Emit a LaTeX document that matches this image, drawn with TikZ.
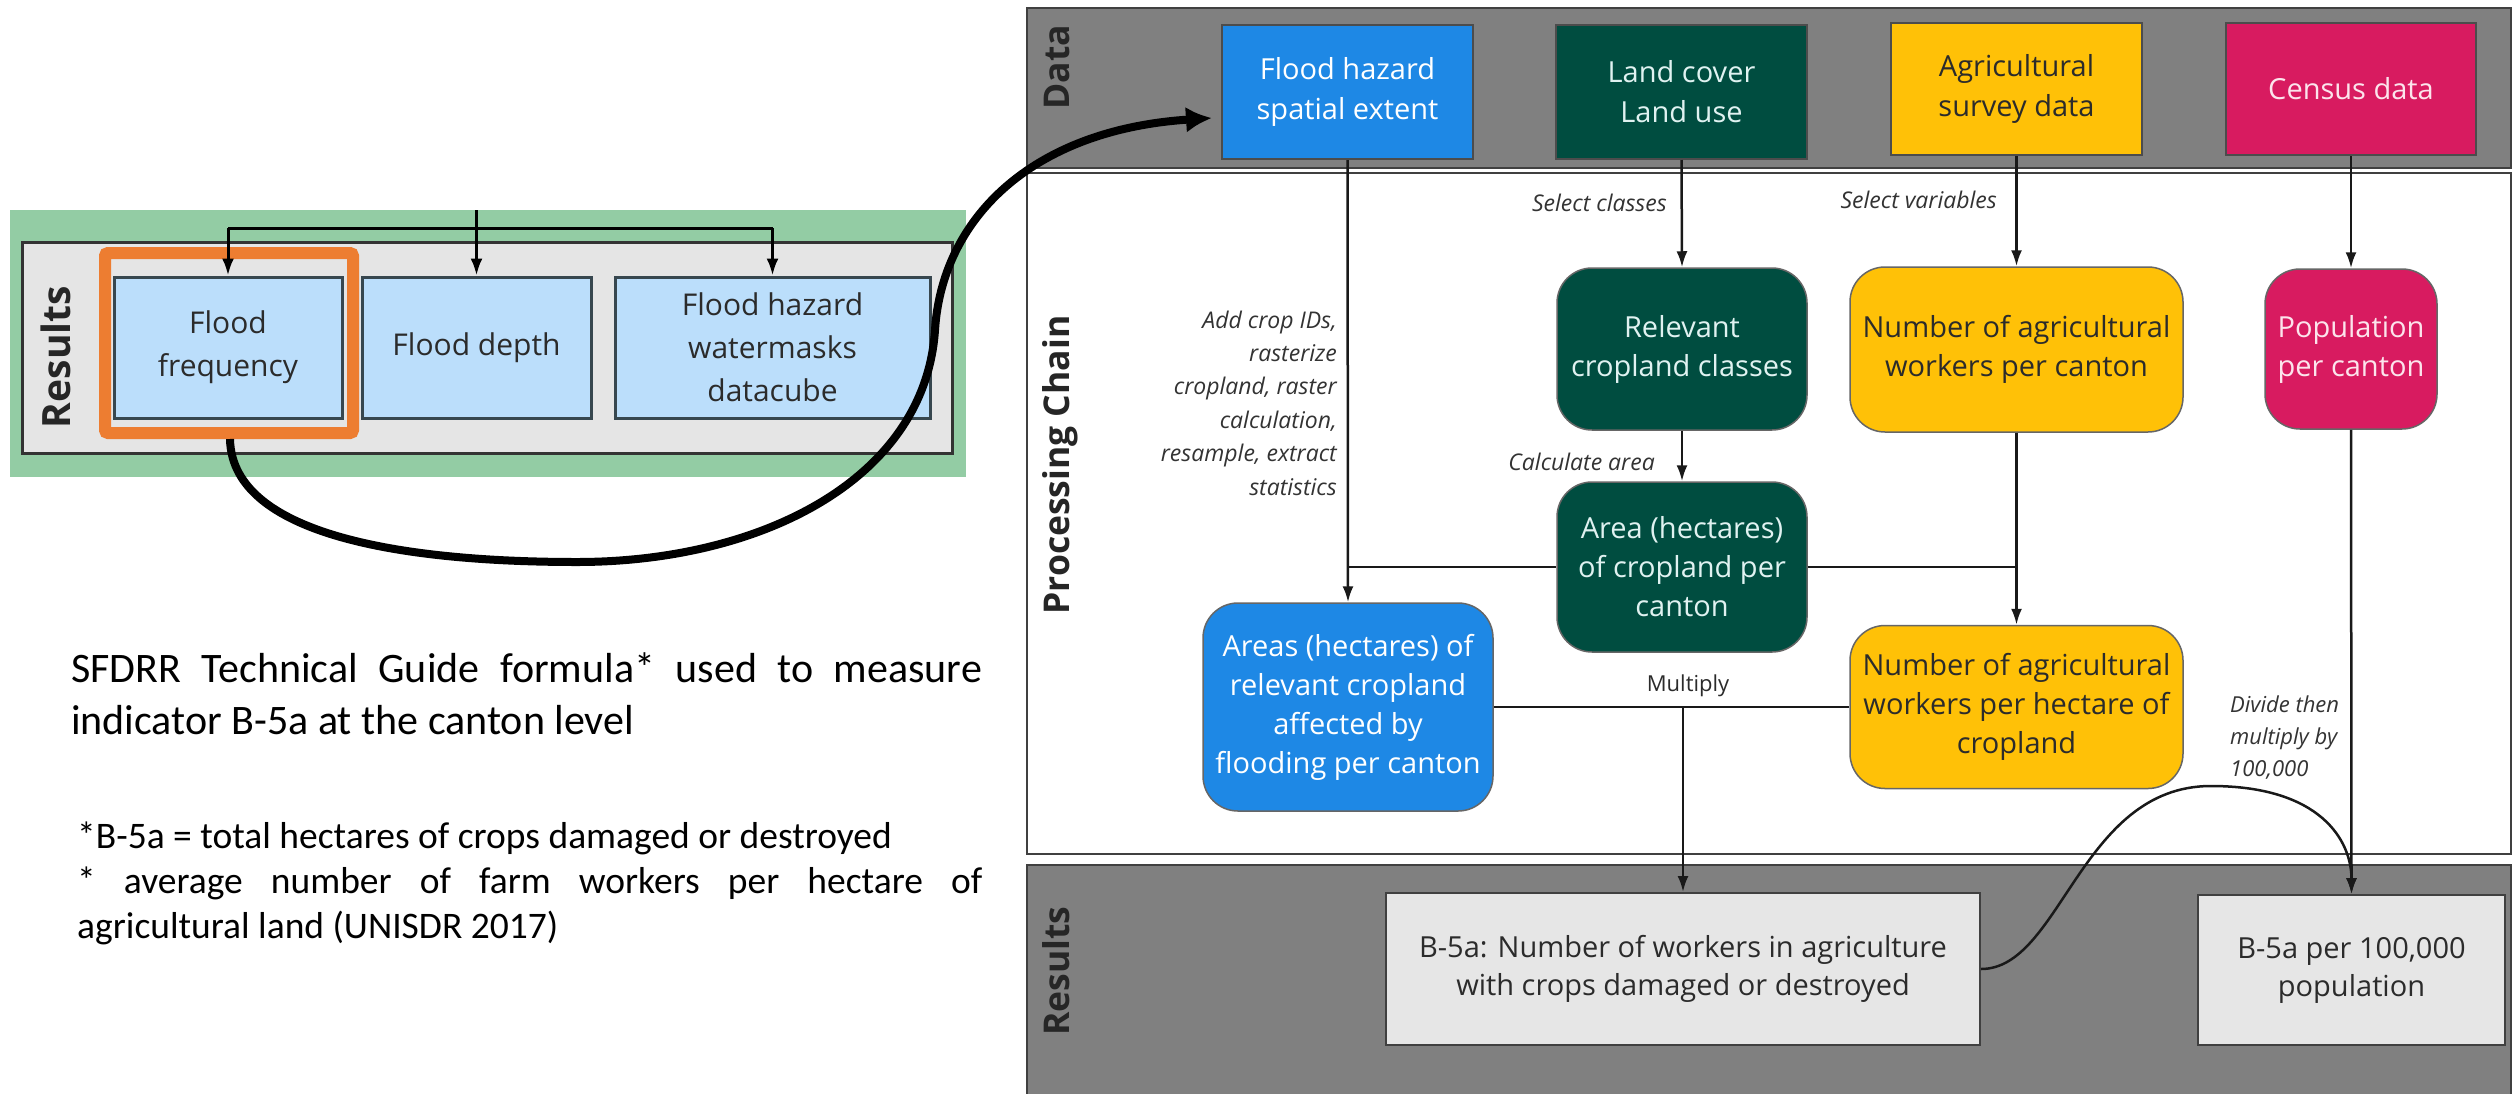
\documentclass[tikz,border=0pt]{standalone}
\usepackage{fontspec}
\setmainfont{Carlito}
\newfontfamily\osans{Open Sans}
\usetikzlibrary{arrows.meta}
\definecolor{bandgray}{HTML}{808080}
\definecolor{bandline}{HTML}{404040}
\definecolor{fhblue}{HTML}{1E88E5}
\definecolor{lcgreen}{HTML}{004D40}
\definecolor{agamber}{HTML}{FFC107}
\definecolor{cspink}{HTML}{D81B60}
\definecolor{resbox}{HTML}{E6E6E6}
\definecolor{lpgreen}{HTML}{93CCA4}
\definecolor{lpgray}{HTML}{E5E5E5}
\definecolor{lpblue}{HTML}{BBDEFB}
\definecolor{lpline}{HTML}{37474F}
\definecolor{orng}{HTML}{ED7D31}
\definecolor{mint}{HTML}{E0F2F1}
\definecolor{pinktxt}{HTML}{FCE4EC}
\definecolor{darktxt}{HTML}{2B2B2B}
\begin{document}
\begin{tikzpicture}[x=1pt,y=-1pt,
  lanebox/.style={draw=bandline,line width=2pt},
  lanelabel/.style={rotate=90,font=\osans\bfseries\fontsize{35.5}{40}\selectfont,text=black!85,inner sep=0pt},
  dbox/.style={rectangle,draw=black!70,line width=2pt,minimum width=251pt,minimum height=134pt,
    align=center,inner sep=0pt,font=\osans\fontsize{29}{40}\selectfont},
  pbox/.style={rectangle,rounded corners=35pt,draw=black!60,line width=1.5pt,align=center,
    inner sep=0pt,font=\osans\fontsize{29}{39}\selectfont},
  rbox/.style={rectangle,fill=resbox,draw=black!75,line width=2pt,align=center,inner sep=0pt,
    text=darktxt,font=\osans\fontsize{29}{38}\selectfont},
  conn/.style={line width=2.5pt,draw=black!90},
  arr/.style={conn,-{Latex[length=16pt,width=11pt]}},
  note/.style={font=\osans\itshape\fontsize{23}{33.4}\selectfont,text=black!80,inner sep=0pt},
  lbox/.style={rectangle,fill=lpblue,draw=lpline,line width=3pt,align=center,inner sep=0pt,
    minimum height=141pt,text=darktxt,font=\osans\fontsize{30}{43}\selectfont},
  larr/.style={line width=3pt,draw=black,-{Latex[length=17pt,width=12pt]}},
  bodytext/.style={anchor=base west,inner sep=0pt,text=black}
]
\useasboundingbox (0,0) rectangle (2513,1093);
\fill[white] (0,0) rectangle (2513,1093);

% ---------------- right diagram: lanes ----------------
\path[lanebox,fill=bandgray] (1027,8) rectangle (2511,168);
\path[lanebox,fill=white] (1027,173) rectangle (2511,854);
\path[lanebox,fill=bandgray] (1027,865) rectangle (2511,1100);
\node[lanelabel] (ldata) at (1057,67) {Data};
\node[lanelabel] (lproc) at (1060,465) {Processing Chain};
\node[lanelabel] (lres) at (1056,971) {Results};

% data boxes
\node[dbox,fill=fhblue,text=white] (fh) at (1347.5,92) {Flood hazard\\spatial extent};
\node[dbox,fill=lcgreen,text=mint] (lc) at (1681.5,92) {Land cover\\Land use};
\node[dbox,fill=agamber,text=darktxt,minimum height=132pt] (ag) at (2016.5,89) {Agricultural\\survey data};
\node[dbox,fill=cspink,text=pinktxt,minimum height=132pt,minimum width=250pt] (cs) at (2351,89) {Census data};

% processing boxes
\node[pbox,fill=lcgreen,text=mint,minimum width=250pt,minimum height=162pt] (rc) at (1682,349) {Relevant\\cropland classes};
\node[pbox,fill=agamber,text=darktxt,minimum width=333pt,minimum height=165pt] (na) at (2016.5,349.5) {Number of agricultural\\workers per canton};
\node[pbox,fill=cspink,text=pinktxt,minimum width=172pt,minimum height=160pt] (pp) at (2351,349) {Population\\per canton};
\node[pbox,fill=lcgreen,text=mint,minimum width=250pt,minimum height=170pt] (ar) at (1682,567) {Area (hectares)\\of cropland per\\canton};
\node[pbox,fill=fhblue,text=white,minimum width=290pt,minimum height=208pt] (af) at (1348,707) {Areas (hectares) of\\relevant cropland\\affected by\\flooding per canton};
\node[pbox,fill=agamber,text=darktxt,minimum width=333pt,minimum height=163pt] (nh) at (2016.5,707) {Number of agricultural\\workers per hectare of\\cropland};

% result boxes
\node[rbox,minimum width=594pt,minimum height=152pt] (b5) at (1683,969) {B-5a: Number of workers in agriculture\\with crops damaged or destroyed};
\node[rbox,minimum width=307pt,minimum height=150pt] (bp) at (2351.5,970) {B-5a per 100,000\\population};

% connectors
\draw[arr] (fh.south) -- (af.north);
\draw[conn] (fh.south |- ar.west) -- (ar.west);
\draw[conn] (ar.east) -- (ar.east -| na.south);
\draw[arr] (lc.south) -- (rc.north);
\draw[arr] (rc.south) -- (ar.north);
\draw[arr] (ag.south) -- (na.north);
\draw[arr] (na.south) -- (nh.north);
\draw[arr] (cs.south) -- (pp.north);
\draw[arr] (pp.south) -- (bp.north);
\draw[conn] (af.east) -- (af.east -| nh.west);
\draw[arr] (af.east -| b5.north) -- (b5.north);
\coordinate (dpeak) at (2211,786);
\draw[arr] (b5.east) .. controls +(80,0) and (2080,786) .. (dpeak) .. controls (2320,786) and (2351.5,840) .. (bp.north);

% connector notes
\node[note,anchor=east] (nsc) at (1667,203) {Select classes};
\node[note,anchor=east] (nsv) at (1997,200) {Select variables};
\node[note,anchor=east] (nca) at (1655,462) {Calculate area};
\node[note,anchor=east,align=right] (ncrop) at (1337,403) {Add crop IDs,\\rasterize\\cropland, raster\\calculation,\\resample, extract\\statistics};
\node[inner sep=0pt,text=darktxt,font=\osans\fontsize{22}{30}\selectfont] (nmul) at (1688,686) {Multiply};
\node[note,anchor=west,align=left,font=\osans\itshape\fontsize{22}{32}\selectfont] (ndiv) at (2230,738) {Divide then\\multiply by\\100,000};

% ---------------- left panel ----------------
\fill[lpgreen] (10,210) rectangle (966,477);
\draw[fill=lpgray,draw=black!80,line width=3pt] (22,242) rectangle (952,453);
\node[lanelabel,font=\osans\bfseries\fontsize{39}{44}\selectfont] (lres2) at (56,357) {Results};
\draw[orng,line width=12pt,rounded corners=3pt] (105,253) rectangle (353,433);
\node[lbox,minimum width=228pt] (ff) at (228,347.5) {Flood\\frequency};
\node[lbox,minimum width=229pt] (fd) at (476.5,347.5) {Flood depth};
\node[lbox,minimum width=315pt] (fw) at (772.5,347.5) {Flood hazard\\watermasks\\datacube};
\coordinate (ltop) at (476.5,210);
\coordinate (brk) at (0,228);
\draw[larr] (ltop) -- (fd.north);
\draw[line width=3pt] (ff.north |- brk) -- (fw.north |- brk);
\draw[larr] (ff.north |- brk) -- (ff.north);
\draw[larr] (fw.north |- brk) -- (fw.north);

% texts
\node[bodytext,font=\fontsize{42}{52}\selectfont] (t1a) at (71,682) {\makebox[911pt][s]{SFDRR Technical Guide formula* used to measure}};
\node[bodytext,font=\fontsize{42}{52}\selectfont] (t1b) at (71,734) {indicator B-5a at the canton level};
\node[bodytext,font=\fontsize{37.5}{45}\selectfont] (t2a) at (77,848) {*B-5a = total hectares of crops damaged or destroyed};
\node[bodytext,font=\fontsize{37.5}{45}\selectfont] (t2b) at (77,893) {\makebox[905pt][s]{* average number of farm workers per hectare of}};
\node[bodytext,font=\fontsize{37.5}{45}\selectfont] (t2c) at (77,938) {agricultural land (UNISDR 2017)};

% big linking curve
\coordinate (obot) at (230,439);
\coordinate (cbot) at (577,562);
\coordinate (cmid) at (935,330);
\coordinate (bigtip) at (1212,118);
\draw[line width=8pt,-{Latex[length=26pt,width=26pt]}] (obot) .. controls (232,540) and (420,562) .. (cbot)
  .. controls (760,562) and (925,480) .. (cmid) .. controls (942,220) and (1030,130) .. (bigtip);
\end{tikzpicture}
\end{document}
